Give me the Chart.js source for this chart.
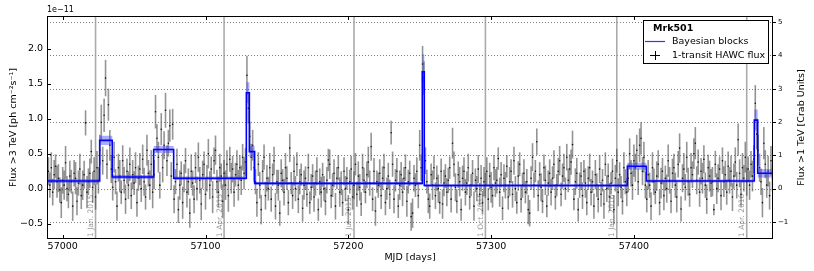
<!DOCTYPE html>
<html><head><meta charset="utf-8">
<script src="https://cdn.jsdelivr.net/npm/chart.js@4/dist/chart.umd.min.js"></script>
<style>html,body{margin:0;padding:0;background:#fff;}canvas{display:block;}</style>
</head><body>
<canvas id="c" width="814" height="271"></canvas>
<script>
// ---- data (flux in units of 1e-11 ph cm^-2 s^-1), one transit per day ----
const firstMJD = 56990;
const flux = [
 // 56990-57025
 0.25,0.05,0.30,-0.05,0.20,0.32,0.10,0.15,-0.02,-0.20,
 0.12,0.05,0.37,0.00,-0.08,0.18,0.10,-0.25,0.22,0.15,
 -0.18,0.08,0.28,-0.10,0.05,0.20,0.94,-0.05,0.10,0.22,
 0.53,0.02,0.25,-0.12,0.30,0.12,
 // 57026-57034
 0.55,0.95,0.40,1.05,1.58,0.35,1.20,0.62,0.28,
 // 57035-57063
 0.02,0.45,0.10,-0.25,0.30,0.18,-0.05,0.40,0.12,-0.15,
 0.25,0.05,0.35,-0.10,0.20,0.08,0.30,-0.20,0.15,0.28,
 0.00,0.42,0.10,-0.12,0.55,0.22,0.05,0.35,-0.05,
 // 57064-57077
 0.20,1.10,0.72,0.45,0.05,0.85,0.30,0.62,1.12,0.40,0.65,0.90,0.18,0.92,
 // 57078-57128
 -0.15,0.10,0.35,-0.30,0.05,0.22,-0.20,0.15,0.40,-0.05,
 0.10,-0.35,0.25,0.08,-0.15,0.30,0.00,0.45,0.12,-0.22,
 0.20,0.35,-0.08,0.15,0.50,0.05,0.28,-0.12,0.40,0.55,
 0.10,-0.05,0.30,0.18,-0.18,0.22,0.05,0.35,-0.10,0.42,
 0.15,0.28,-0.05,0.20,0.35,0.05,0.30,0.12,0.45,0.22,
 0.38,
 // 57129-57134
 1.62,1.15,0.75,0.45,0.62,0.30,
 // 57135-57251
 0.10,-0.20,0.35,0.05,-0.30,0.25,0.45,-0.10,0.15,0.00,
 0.30,-0.15,0.20,0.40,-0.25,0.10,0.05,-0.35,0.22,0.12,
 -0.05,0.30,0.15,-0.20,0.58,0.08,-0.10,0.25,0.00,0.35,
 -0.15,0.10,0.20,-0.28,0.05,0.15,-0.08,0.30,-0.20,0.02,
 0.18,-0.12,0.08,0.25,-0.30,0.10,-0.05,0.20,0.00,-0.18,
 0.12,0.41,0.35,-0.10,0.05,0.22,-0.25,0.15,0.30,-0.05,
 0.08,-0.20,0.25,0.00,0.15,-0.30,0.10,0.28,-0.12,0.05,
 0.35,-0.08,0.18,0.02,-0.22,0.30,0.12,-0.05,0.20,0.38,
 0.08,0.60,-0.15,0.25,-0.32,0.10,0.05,0.22,-0.10,0.15,
 0.30,-0.20,0.00,0.18,-0.08,0.80,0.35,-0.15,0.12,0.25,
 -0.25,0.05,0.20,-0.05,0.15,0.30,-0.18,0.10,0.22,-0.40,
 -0.35,0.15,0.05,0.25,-0.10,0.62,0.30,
 // 57252-57253
 1.78,1.58,
 // 57254-57395
 0.40,0.10,-0.15,-0.25,0.20,0.05,0.30,-0.10,0.15,0.00,
 -0.20,0.25,-0.22,0.08,0.18,-0.05,0.12,0.30,-0.15,0.65,
 0.35,0.02,-0.18,0.20,0.10,-0.30,0.15,0.25,-0.05,0.08,
 0.30,-0.12,0.05,0.22,-0.25,0.12,0.00,0.28,-0.08,0.15,
 -0.20,0.10,0.05,0.25,-0.15,0.18,0.02,-0.10,0.30,0.08,
 0.12,0.43,-0.05,0.20,-0.28,0.15,0.05,0.32,-0.12,0.10,
 0.25,-0.08,0.40,0.00,-0.20,0.18,0.35,-0.15,0.05,0.22,
 -0.05,0.10,-0.30,-0.35,0.15,0.45,0.05,0.25,0.67,-0.10,
 0.20,0.02,-0.18,0.30,0.12,-0.25,0.08,0.22,-0.05,0.15,
 0.35,-0.12,0.05,0.25,0.40,-0.08,0.18,0.30,0.00,0.45,
 0.12,0.28,0.38,0.63,-0.15,0.10,0.22,-0.30,0.05,0.18,
 -0.10,0.25,0.08,-0.20,0.15,0.30,-0.05,0.10,-0.25,0.20,
 0.05,-0.15,0.28,-0.08,0.12,-0.22,0.35,0.00,0.18,-0.12,
 0.08,0.25,-0.30,0.15,0.40,-0.05,0.20,0.02,-0.18,0.30,
 0.10,-0.05,
 // 57396-57408
 0.15,0.50,0.22,0.05,0.40,0.30,0.55,0.10,0.62,0.72,0.25,0.45,0.05,
 // 57409-57484
 -0.15,0.20,0.05,-0.25,0.30,0.10,-0.05,0.18,0.35,-0.20,
 0.08,0.25,-0.10,0.15,0.00,0.40,0.12,-0.18,0.22,0.30,
 0.05,-0.12,0.35,0.58,-0.29,0.15,0.28,0.02,0.45,0.10,
 -0.08,0.30,0.20,0.50,0.65,0.12,0.38,-0.05,0.25,0.15,
 0.42,0.05,-0.15,0.30,0.18,0.08,0.10,-0.30,0.35,0.00,
 0.15,0.28,-0.10,0.40,0.10,0.20,-0.05,0.32,0.12,0.25,
 -0.12,0.18,0.38,0.05,0.70,0.22,-0.08,0.30,0.15,0.45,
 0.10,0.28,0.05,0.35,0.18,0.42,
 // 57485-57497
 1.22,0.78,0.55,0.30,0.10,-0.20,0.65,0.35,0.05,0.25,-0.10,0.40,0.15
];
const fluxErr = [
 0.20,0.18,0.22,0.19,0.21,0.17,0.23,0.20,0.18,0.22,
 0.19,0.21,0.24,0.18,0.20,0.22,0.17,0.21,0.19,0.23,
 0.20,0.18,0.22,0.19,0.21,0.20,0.18,0.23,0.19,0.21,
 0.17,0.22,0.20,0.18,0.24,0.19,
 0.22,0.25,0.20,0.24,0.26,0.21,0.23,0.22,0.20,
 0.19,0.22,0.18,0.21,0.20,0.23,0.17,0.22,0.19,0.21,
 0.18,0.20,0.24,0.19,0.21,0.17,0.22,0.20,0.18,0.23,
 0.19,0.21,0.20,0.18,0.22,0.19,0.21,0.20,0.23,
 0.21,0.24,0.20,0.22,0.19,0.23,0.21,0.20,0.25,0.22,0.19,0.23,0.20,0.22,
 0.20,0.18,0.22,0.19,0.21,0.17,0.23,0.20,0.18,0.22,
 0.19,0.21,0.24,0.18,0.20,0.22,0.17,0.21,0.19,0.23,
 0.20,0.18,0.22,0.19,0.21,0.20,0.18,0.23,0.19,0.21,
 0.17,0.22,0.20,0.18,0.24,0.19,0.21,0.20,0.23,0.18,
 0.22,0.19,0.21,0.17,0.20,0.22,0.18,0.21,0.19,0.23,
 0.20,
 0.28,0.22,0.21,0.19,0.22,0.20,
 0.18,0.20,0.17,0.19,0.21,0.16,0.18,0.20,0.19,0.17,
 0.21,0.18,0.16,0.20,0.19,0.17,0.22,0.18,0.20,0.16,
 0.19,0.21,0.17,0.18,0.20,0.16,0.19,0.21,0.18,0.17,
 0.20,0.18,0.16,0.19,0.21,0.17,0.18,0.20,0.16,0.19,
 0.17,0.21,0.18,0.20,0.16,0.19,0.22,0.17,0.18,0.20,
 0.19,0.16,0.21,0.18,0.17,0.20,0.19,0.16,0.18,0.21,
 0.17,0.19,0.20,0.18,0.16,0.21,0.17,0.19,0.18,0.20,
 0.16,0.18,0.21,0.19,0.17,0.20,0.18,0.16,0.19,0.22,
 0.18,0.20,0.17,0.19,0.21,0.16,0.18,0.20,0.19,0.17,
 0.20,0.18,0.16,0.19,0.21,0.17,0.18,0.20,0.16,0.19,
 0.17,0.21,0.18,0.20,0.16,0.19,0.22,0.17,0.18,0.20,
 0.21,0.19,0.17,0.20,0.18,0.22,0.19,
 0.26,0.24,
 0.19,0.17,0.20,0.18,0.16,0.21,0.17,0.19,0.18,0.20,
 0.16,0.18,0.21,0.19,0.17,0.20,0.18,0.16,0.19,0.22,
 0.18,0.20,0.17,0.19,0.21,0.16,0.18,0.20,0.19,0.17,
 0.20,0.18,0.16,0.19,0.21,0.17,0.18,0.20,0.16,0.19,
 0.17,0.21,0.18,0.20,0.16,0.19,0.22,0.17,0.18,0.20,
 0.19,0.16,0.21,0.18,0.17,0.20,0.19,0.16,0.18,0.21,
 0.17,0.19,0.20,0.18,0.16,0.21,0.17,0.19,0.18,0.20,
 0.16,0.18,0.21,0.19,0.17,0.20,0.18,0.16,0.19,0.22,
 0.18,0.20,0.17,0.19,0.21,0.16,0.18,0.20,0.19,0.17,
 0.20,0.18,0.16,0.19,0.21,0.17,0.18,0.20,0.16,0.19,
 0.17,0.21,0.18,0.20,0.16,0.19,0.22,0.17,0.18,0.20,
 0.19,0.16,0.21,0.18,0.17,0.20,0.19,0.16,0.18,0.21,
 0.17,0.19,0.20,0.18,0.16,0.21,0.17,0.19,0.18,0.20,
 0.16,0.18,0.21,0.19,0.17,0.20,0.18,0.16,0.19,0.22,
 0.18,0.20,
 0.20,0.22,0.19,0.21,0.23,0.20,0.22,0.19,0.24,0.23,0.20,0.22,0.19,
 0.19,0.21,0.18,0.20,0.22,0.19,0.17,0.21,0.20,0.18,
 0.22,0.19,0.21,0.18,0.20,0.23,0.19,0.17,0.21,0.20,
 0.18,0.22,0.19,0.21,0.18,0.20,0.23,0.19,0.22,0.20,
 0.18,0.21,0.19,0.22,0.23,0.20,0.18,0.21,0.19,0.22,
 0.20,0.18,0.21,0.19,0.22,0.20,0.21,0.08,0.19,0.22,
 0.20,0.18,0.21,0.19,0.22,0.20,0.18,0.21,0.19,0.22,
 0.20,0.18,0.21,0.19,0.23,0.20,0.18,0.21,0.19,0.22,
 0.20,0.18,0.21,0.19,0.22,0.20,
 0.26,0.22,0.22,0.20,0.19,0.21,0.23,0.20,0.18,0.22,0.20,0.21,0.19
];
// Bayesian blocks: edges (MJD), level and uncertainty (1e-11)
const blockEdges  = [56989,57025.9,57034.7,57063.7,57077.7,57128.6,57130.7,57134.4,57251.8,57253.2,57395.4,57408.7,57484.3,57486.7,57497.5];
const blockValues = [0.11,0.69,0.167,0.56,0.148,1.37,0.53,0.076,1.67,0.045,0.32,0.11,0.98,0.22];
const blockErrors = [0.03,0.065,0.03,0.05,0.025,0.15,0.08,0.02,0.25,0.02,0.05,0.02,0.15,0.06];
// date markers
const markerMJD    = [57023,57113,57204,57296,57388,57479];
const markerLabels = ['1 Jan. 2015','1 Apr. 2015','1 Jul. 2015','1 Oct. 2015','1 Jan. 2016','1 Apr. 2016'];
// ticks
const xTicks    = [57000,57100,57200,57300,57400];
const yTicks    = [-0.5,0,0.5,1,1.5,2];
const crabTicks = [-1,0,1,2,3,4,5];
const crabUnit  = 0.476; // 1 Crab unit (>1 TeV) expressed on the left axis
const xRange = [56989, 57497.4];
const yRange = [-0.719, 2.467];

const FONT = 'DejaVu Sans';
const mjd = flux.map((_, i) => firstMJD + i);
function stepData(vals){
  const pts = vals.map((v,i)=>({x:blockEdges[i], y:v}));
  pts.push({x:blockEdges[blockEdges.length-1], y:vals[vals.length-1]});
  return pts;
}
const minus = s => String(s).replace('-', '\u2212');

const decor = {
  id:'decor',
  beforeDatasetsDraw(chart){
    const {ctx, chartArea:a, scales} = chart;
    const xs = scales.x, ys = scales.y, y2 = scales.y2;
    ctx.save();
    ctx.beginPath(); ctx.rect(a.left, a.top, a.right-a.left, a.bottom-a.top); ctx.clip();
    // dotted grid from right axis
    ctx.strokeStyle = 'rgba(0,0,0,0.5)'; ctx.lineWidth = 1; ctx.setLineDash([1,2]);
    crabTicks.forEach(t=>{
      const y = Math.round(y2.getPixelForValue(t))+0.5;
      ctx.beginPath(); ctx.moveTo(a.left,y); ctx.lineTo(a.right,y); ctx.stroke();
    });
    ctx.setLineDash([]);
    // date markers
    ctx.strokeStyle = 'rgba(150,150,150,0.8)'; ctx.lineWidth = 1.6;
    markerMJD.forEach((m,i)=>{
      const x = xs.getPixelForValue(m);
      ctx.beginPath(); ctx.moveTo(x,a.top); ctx.lineTo(x,a.bottom); ctx.stroke();
      ctx.save();
      ctx.translate(x-4.5, a.bottom-2);
      ctx.rotate(-Math.PI/2);
      ctx.fillStyle = '#999'; ctx.font = '7.5px "'+FONT+'"';
      ctx.textAlign='left'; ctx.textBaseline='middle';
      ctx.fillText(markerLabels[i], 0, 0);
      ctx.restore();
    });
    // error bars
    ctx.strokeStyle = 'rgba(70,70,70,0.58)'; ctx.lineWidth = 1.6;
    flux.forEach((v,i)=>{
      const x = xs.getPixelForValue(mjd[i]);
      ctx.beginPath();
      ctx.moveTo(x, ys.getPixelForValue(v-fluxErr[i]));
      ctx.lineTo(x, ys.getPixelForValue(v+fluxErr[i]));
      ctx.stroke();
    });
    ctx.restore();
  },
  afterDraw(chart){
    const {ctx, chartArea:a, scales} = chart;
    const xs = scales.x, ys = scales.y, y2 = scales.y2;
    ctx.save();
    ctx.strokeStyle = '#000'; ctx.lineWidth = 1;
    // tick marks
    ctx.beginPath();
    xTicks.forEach(t=>{
      const x = Math.round(xs.getPixelForValue(t))+0.5;
      ctx.moveTo(x,a.bottom); ctx.lineTo(x,a.bottom-4);
      ctx.moveTo(x,a.top); ctx.lineTo(x,a.top+4);
    });
    yTicks.forEach(t=>{
      const y = Math.round(ys.getPixelForValue(t))+0.5;
      ctx.moveTo(a.left,y); ctx.lineTo(a.left+4,y);
    });
    crabTicks.forEach(t=>{
      const y = Math.round(y2.getPixelForValue(t))+0.5;
      ctx.moveTo(a.right,y); ctx.lineTo(a.right+3,y);
    });
    ctx.stroke();
    // frame
    ctx.strokeRect(a.left+0.5, a.top+0.5, a.right-a.left-1, a.bottom-a.top-1);
    // offset text
    ctx.fillStyle='#000'; ctx.font='8px "'+FONT+'"'; ctx.textAlign='left'; ctx.textBaseline='middle';
    ctx.fillText('1e\u221211', a.left, 10);
    // right axis title
    ctx.save();
    ctx.translate(801.5, (a.top+a.bottom)/2);
    ctx.rotate(-Math.PI/2);
    ctx.font='9.5px "'+FONT+'"'; ctx.textAlign='center'; ctx.textBaseline='middle';
    ctx.fillText('Flux >1 TeV [Crab Units]',0,0);
    ctx.restore();
    // legend
    const L=643, T=20, R=769, B=64;
    ctx.fillStyle='#fff'; ctx.fillRect(L,T,R-L,B-T);
    ctx.strokeRect(L+0.5,T+0.5,R-L-1,B-T-1);
    ctx.fillStyle='#000';
    ctx.font='bold 9.5px "'+FONT+'"'; ctx.textAlign='left'; ctx.textBaseline='middle';
    ctx.fillText('Mrk501', 653, 29);
    ctx.font='9.5px "'+FONT+'"';
    ctx.fillText('Bayesian blocks', 672, 42);
    ctx.fillText('1-transit HAWC flux', 672, 56);
    ctx.strokeStyle='#3333ff'; ctx.lineWidth=1.2;
    ctx.beginPath(); ctx.moveTo(645,41.5); ctx.lineTo(665,41.5); ctx.stroke();
    ctx.strokeStyle='#000'; ctx.lineWidth=1;
    ctx.beginPath(); ctx.moveTo(650,55.5); ctx.lineTo(660,55.5); ctx.moveTo(655.5,51); ctx.lineTo(655.5,60); ctx.stroke();
    ctx.restore();
  }
};

const lo = blockValues.map((v,i)=>v-blockErrors[i]);
const hi = blockValues.map((v,i)=>v+blockErrors[i]);

new Chart(document.getElementById('c'), {
  type:'scatter',
  data:{datasets:[
    {label:'Bayesian blocks', type:'line', data:stepData(blockValues), stepped:'before',
     borderColor:'#0000ff', borderWidth:1.6, pointRadius:0, fill:false, order:0},
    {label:'band high', type:'line', data:stepData(hi), stepped:'before',
     borderWidth:0, borderColor:'rgba(0,0,0,0)', pointRadius:0, fill:'+1', backgroundColor:'rgba(60,60,255,0.42)', order:1},
    {label:'band low', type:'line', data:stepData(lo), stepped:'before',
     borderWidth:0, borderColor:'rgba(0,0,0,0)', pointRadius:0, fill:false, order:1},
    {label:'1-transit HAWC flux', data:mjd.map((x,i)=>({x, y:flux[i]})),
     pointRadius:0.8, pointBackgroundColor:'#111', pointBorderWidth:0, order:2}
  ]},
  options:{
    responsive:false, animation:false, devicePixelRatio:1,
    layout:{padding:{top:16,left:0,right:0,bottom:0}},
    plugins:{legend:{display:false}, tooltip:{enabled:false}},
    scales:{
      x:{type:'linear', position:'bottom', min:xRange[0], max:xRange[1],
         grid:{display:false, drawTicks:false}, border:{display:false},
         afterBuildTicks:s=>{s.ticks = xTicks.map(v=>({value:v}));},
         ticks:{color:'#000', font:{family:FONT,size:9.5}, padding:2, maxRotation:0, autoSkip:false, callback:v=>String(v)},
         title:{display:true, text:'MJD [days]', color:'#000', font:{family:FONT,size:9.5}, padding:{top:0,bottom:8}},
         afterFit:s=>{s.height=32;}},
      y:{position:'left', min:yRange[0], max:yRange[1],
         grid:{display:false, drawTicks:false}, border:{display:false},
         afterBuildTicks:s=>{s.ticks = yTicks.map(v=>({value:v}));},
         ticks:{color:'#000', font:{family:FONT,size:9.5}, padding:4, autoSkip:false, callback:v=>minus(v.toFixed(1))},
         title:{display:true, text:'Flux >3 TeV [ph cm\u207B\u00B2s\u207B\u00B9]', color:'#000', font:{family:FONT,size:9.5}, padding:{top:8,bottom:0}},
         afterFit:s=>{s.width=47;}},
      y2:{position:'right', min:yRange[0]/crabUnit, max:yRange[1]/crabUnit,
         grid:{display:false, drawTicks:false}, border:{display:false},
         afterBuildTicks:s=>{s.ticks = crabTicks.map(v=>({value:v}));},
         ticks:{color:'#000', font:{family:FONT,size:7}, padding:5, autoSkip:false, callback:v=>minus(v)},
         afterFit:s=>{s.width=41;}}
    }
  },
  plugins:[decor]
});
</script>
</body></html>
